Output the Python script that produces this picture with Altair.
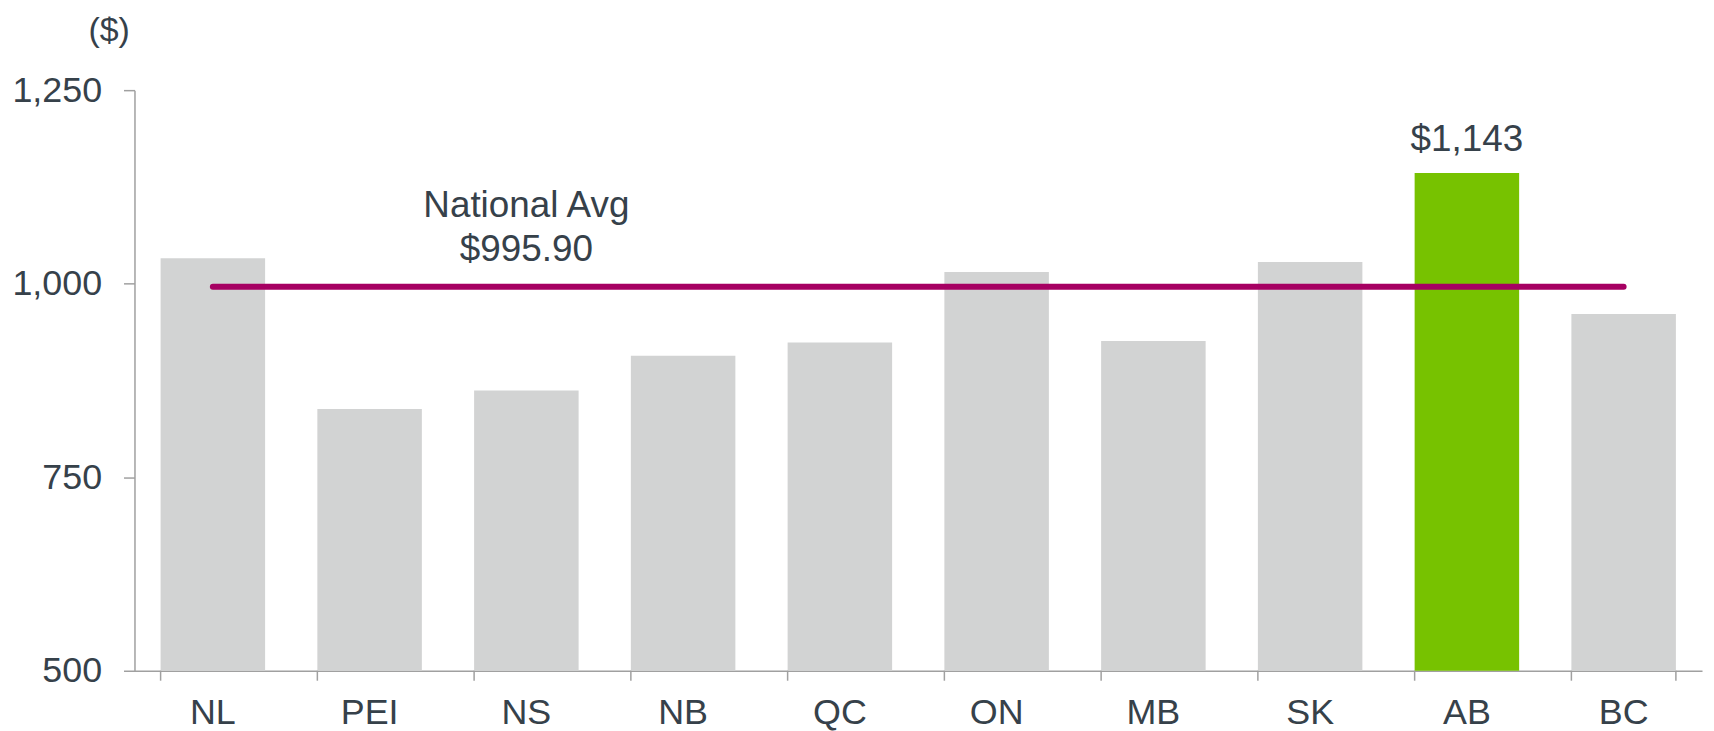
import altair as alt
import pandas as pd

# ---- data ----
provinces = ["NL", "PEI", "NS", "NB", "QC", "ON", "MB", "SK", "AB", "BC"]
values = [1033, 838, 862, 907, 924, 1015, 926, 1028, 1143, 961]
highlight = "AB"
highlight_label = "$1,143"
national_avg = 995.90
avg_label_lines = ["National Avg", "$995.90"]
avg_label_at = "NS"
y_ticks = [500, 750, 1000, 1250]
y_domain = [500, 1250]

FONT = "Liberation Sans"
TEXT = "#36414A"
AXIS = "#A0A0A0"
GREY = "#D2D3D3"
GREEN = "#77C200"
MAGENTA = "#A60062"

W, H = 1574, 583

df = pd.DataFrame({"prov": provinces, "value": values})
df_hi = df[df["prov"] == highlight].assign(label=highlight_label)
df_avg = pd.DataFrame({"prov": [provinces[0]], "end": [provinces[-1]], "value": [national_avg]})
df_avg_lbl = pd.DataFrame({"prov": [avg_label_at], "value": [national_avg],
                           "l1": [avg_label_lines[0]], "l2": [avg_label_lines[1]]})
df_last = df.tail(1)

xscale = alt.Scale(domain=provinces, paddingInner=1/3, paddingOuter=1/6)
yscale = alt.Scale(domain=y_domain, nice=False, zero=False)

x_axis = alt.Axis(title=None, ticks=False, tickSize=0, labelPadding=25, labelFontSize=36,
                  labelFont=FONT, labelColor=TEXT, labelAngle=0, domainColor=AXIS,
                  domainWidth=1.5, grid=False)
y_axis = alt.Axis(values=y_ticks, format=",.0f", title="($)", titleAngle=0, titleAlign="center",
                  titleBaseline="alphabetic", titleX=-26, titleY=-50, titleFont=FONT,
                  titleFontSize=34, titleFontWeight="normal", titleColor=TEXT,
                  labelFont=FONT, labelFontSize=36, labelColor=TEXT, labelPadding=22,
                  tickSize=11, tickColor=AXIS, tickWidth=1.5, domainColor=AXIS,
                  domainWidth=1.5, grid=False)


def X(**kw):
    return alt.X("prov:N", scale=xscale, axis=x_axis, **kw)


def Y():
    return alt.Y("value:Q", scale=yscale, axis=y_axis)


bars = alt.Chart(df).mark_bar().encode(
    x=X(),
    y=Y(),
    y2=alt.datum(y_domain[0]),
    color=alt.condition(alt.datum.prov == highlight, alt.value(GREEN), alt.value(GREY)),
)

xticks = alt.Chart(df).mark_rule(color=AXIS, strokeWidth=1.5).encode(
    x=X(bandPosition=0),
    y=alt.value(H), y2=alt.value(H + 10),
)
xtick_end = alt.Chart(df_last).mark_rule(color=AXIS, strokeWidth=1.5).encode(
    x=X(bandPosition=1),
    y=alt.value(H), y2=alt.value(H + 10),
)

avg_line = alt.Chart(df_avg).mark_rule(color=MAGENTA, strokeWidth=6, strokeCap="round").encode(
    x=X(),
    x2="end:N",
    y=Y(),
)

avg_t1 = alt.Chart(df_avg_lbl).mark_text(font=FONT, fontSize=37, color=TEXT,
                                         baseline="alphabetic", dy=-70).encode(
    x=X(), y=Y(), text="l1:N",
)
avg_t2 = alt.Chart(df_avg_lbl).mark_text(font=FONT, fontSize=37, color=TEXT,
                                         baseline="alphabetic", dy=-26).encode(
    x=X(), y=Y(), text="l2:N",
)

hi_text = alt.Chart(df_hi).mark_text(font=FONT, fontSize=37, color=TEXT,
                                     baseline="alphabetic", dy=-22).encode(
    x=X(), y=Y(), text="label:N",
)

chart = alt.layer(bars, xticks, xtick_end, avg_line, avg_t1, avg_t2, hi_text).properties(
    width=W, height=H,
    autosize=alt.AutoSizeParams(type="none"),
    padding={"left": 127, "top": 81, "right": 4, "bottom": 59},
    background="white",
).configure_view(stroke=None)

chart.save("out.html", embed_options={"renderer": "svg", "actions": False})
